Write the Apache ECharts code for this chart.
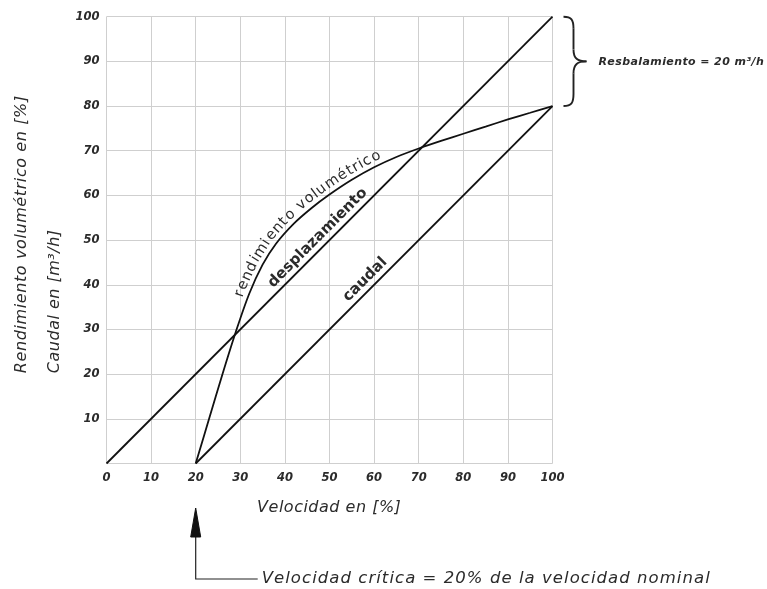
<!DOCTYPE html>
<html>
<head>
<meta charset="utf-8">
<script src="https://cdn.jsdelivr.net/npm/echarts@6/dist/echarts.min.js"></script>
<style>
  html, body { margin: 0; padding: 0; background: #fff; }
  #chart { width: 767px; height: 589px; }
</style>
</head>
<body>
<div id="chart"></div>
<script>
// desplazamiento: straight line from origin
var desplazamiento = [[0, 0], [100, 100]];
// caudal = desplazamiento - resbalamiento (20 m3/h)
var caudal = [[20, 0], [100, 80]];
// rendimiento volumetrico
var rvX = [20, 23, 26, 29, 32, 35, 38, 42, 46, 50, 55, 60, 65, 70, 75, 80, 85, 90, 95, 100];
var rvY = [0, 10, 20, 29.5, 38, 44.5, 49.2, 53.7, 57.2, 60.2, 63.5, 66.3, 68.6, 70.5, 72.2, 73.8, 75.4, 77, 78.5, 80];

var velocidadCritica = 20;
var resbalamiento = [80, 100];

var txtColor = '#2b2b2b';
var lineColor = '#111';
var fontFam = '"DejaVu Sans", sans-serif';

var chart = echarts.init(document.getElementById('chart'), null, {renderer: 'canvas'});

var option = {
  animation: false,
  backgroundColor: '#fff',
  grid: {
    left: 106.5,
    right: 214.5,
    top: 16.7,
    bottom: 125.5
  },
  xAxis: {
    type: 'value',
    min: 0,
    max: 100,
    interval: 10,
    axisLine: {show: false},
    axisTick: {show: false},
    splitLine: {lineStyle: {color: '#cfcfcf', width: 1}},
    axisLabel: {
      color: txtColor,
      fontFamily: fontFam,
      fontStyle: 'italic',
      fontWeight: 'bold',
      fontSize: 11.5,
      margin: 9
    }
  },
  yAxis: {
    type: 'value',
    min: 0,
    max: 100,
    interval: 10,
    axisLine: {show: false},
    axisTick: {show: false},
    splitLine: {lineStyle: {color: '#cfcfcf', width: 1}},
    axisLabel: {
      color: txtColor,
      fontFamily: fontFam,
      fontStyle: 'italic',
      fontWeight: 'bold',
      fontSize: 11.5,
      margin: 7,
      formatter: function (v) { return v === 0 ? '' : v; }
    }
  },
  series: [
    {
      name: 'desplazamiento',
      type: 'line',
      data: desplazamiento,
      symbol: 'none',
      lineStyle: {color: lineColor, width: 1.8}
    },
    {
      name: 'caudal',
      type: 'line',
      data: caudal,
      symbol: 'none',
      lineStyle: {color: lineColor, width: 1.8}
    },
    {
      name: 'rendimiento',
      type: 'line',
      data: rvX.map(function (x, i) { return [x, rvY[i]]; }),
      symbol: 'none',
      smooth: 0.3,
      lineStyle: {color: lineColor, width: 1.8}
    }
  ]
};
chart.setOption(option);

// ---- annotations ----
function px(x, y) { return chart.convertToPixel({gridIndex: 0}, [x, y]); }

var measureCtx = document.createElement('canvas').getContext('2d');

// lay a string along a polyline (pixel points), one glyph at a time
function textOnPath(pts, str, startLen, offset, font, spacing) {
  spacing = spacing || 0;
  var lens = [0];
  for (var i = 1; i < pts.length; i++) {
    var dx = pts[i][0] - pts[i - 1][0], dy = pts[i][1] - pts[i - 1][1];
    lens.push(lens[i - 1] + Math.sqrt(dx * dx + dy * dy));
  }
  measureCtx.font = font;
  var out = [];
  var s = startLen;
  for (var c = 0; c < str.length; c++) {
    var w = measureCtx.measureText(str[c]).width;
    var mid = s + w / 2;
    var k = 1;
    while (k < lens.length - 1 && lens[k] < mid) k++;
    var t = (mid - lens[k - 1]) / (lens[k] - lens[k - 1]);
    var ax = pts[k - 1][0], ay = pts[k - 1][1];
    var tx = pts[k][0] - ax, ty = pts[k][1] - ay;
    var tl = Math.sqrt(tx * tx + ty * ty);
    tx /= tl; ty /= tl;
    var cx = ax + (pts[k][0] - ax) * t + ty * offset;
    var cy = ay + (pts[k][1] - ay) * t - tx * offset;
    out.push({
      type: 'text',
      x: cx,
      y: cy,
      rotation: Math.atan2(-ty, tx),
      style: {
        text: str[c],
        font: font,
        fill: txtColor,
        align: 'center',
        verticalAlign: 'middle'
      },
      z: 10
    });
    s += w + spacing;
  }
  return out;
}

// straight text helpers (horizontal / vertical going up)
function hText(x, y, str, font, spacing) {
  return textOnPath([[x, y], [x + 2000, y]], str, 0, 0, font, spacing);
}
function vText(x, y, str, font, spacing) {
  return textOnPath([[x, y], [x, y - 2000]], str, 0, 0, font, spacing);
}

var g = [];

// labels following the curves
var rvPts = [];
for (var i = 0; i < rvX.length; i++) rvPts.push(px(rvX[i], rvY[i]));
g = g.concat(textOnPath(rvPts, 'rendimiento volumétrico', 172, 9, '14.5px ' + fontFam, 0.9));

var dA = px(0, 0), dB = px(100, 100);
g = g.concat(textOnPath([dA, dB], 'desplazamiento', 242, 10, 'bold 15px ' + fontFam));

var cA = px(20, 0), cB = px(100, 80);
g = g.concat(textOnPath([cA, cB], 'caudal', 222, 10, 'bold 15px ' + fontFam));

// axis titles
var titleFont = 'italic 16px ' + fontFam;
var xMid = (px(0, 0)[0] + px(100, 0)[0]) / 2;
measureCtx.font = titleFont;
var xName = 'Velocidad en [%]';
var xNameW = measureCtx.measureText(xName).width + 0.5 * (xName.length - 1);
g = g.concat(hText(xMid - xNameW / 2 - 1, 508, xName, titleFont, 0.5));

var yBase = px(0, 20)[1] - 1;
g = g.concat(vText(22, yBase, 'Rendimiento volumétrico en [%]', titleFont, 0.6));
g = g.concat(vText(55, yBase, 'Caudal en [m³/h]', titleFont, 0.5));

// brace for resbalamiento
var bTop = px(100, resbalamiento[1]), bBot = px(100, resbalamiento[0]);
var bx = bTop[0] + 11, yT = bTop[1], yB = bBot[1], yM = (yT + yB) / 2;
var braceStyle = {fill: null, stroke: '#222', lineWidth: 1.9};
function bez(x1, y1, c1x, c1y, c2x, c2y, x2, y2) {
  return {type: 'bezierCurve', shape: {x1: x1, y1: y1, cpx1: c1x, cpy1: c1y, cpx2: c2x, cpy2: c2y, x2: x2, y2: y2}, style: braceStyle};
}
function seg(x1, y1, x2, y2) {
  return {type: 'line', shape: {x1: x1, y1: y1, x2: x2, y2: y2}, style: braceStyle};
}
g.push(bez(bx, yT, bx + 8, yT, bx + 10, yT + 3, bx + 10, yT + 12));
g.push(seg(bx + 10, yT + 12, bx + 10, yM - 12));
g.push(bez(bx + 10, yM - 12, bx + 10, yM - 3, bx + 14, yM, bx + 23, yM));
g.push(bez(bx + 23, yM, bx + 14, yM, bx + 10, yM + 3, bx + 10, yM + 12));
g.push(seg(bx + 10, yM + 12, bx + 10, yB - 12));
g.push(bez(bx + 10, yB - 12, bx + 10, yB - 3, bx + 8, yB, bx, yB));
g = g.concat(hText(bx + 35, yM + 1, 'Resbalamiento = 20 m³/h', 'italic bold 11px ' + fontFam, 0.4));

// arrow marking the critical speed
var ax0 = px(velocidadCritica, 0)[0];
g.push({
  type: 'polyline',
  shape: {points: [[ax0, 534], [ax0, 579], [ax0 + 62, 579]]},
  style: {fill: null, stroke: '#222', lineWidth: 1.2}
});
g.push({
  type: 'polygon',
  shape: {points: [[ax0, 508], [ax0 - 5, 537], [ax0 + 5, 537]]},
  style: {fill: '#111', stroke: '#111', lineWidth: 1}
});
g = g.concat(hText(ax0 + 66, 579, 'Velocidad crítica = 20% de la velocidad nominal', 'italic 16.5px ' + fontFam, 1.05));

chart.setOption({graphic: {elements: g}});
</script>
</body>
</html>
